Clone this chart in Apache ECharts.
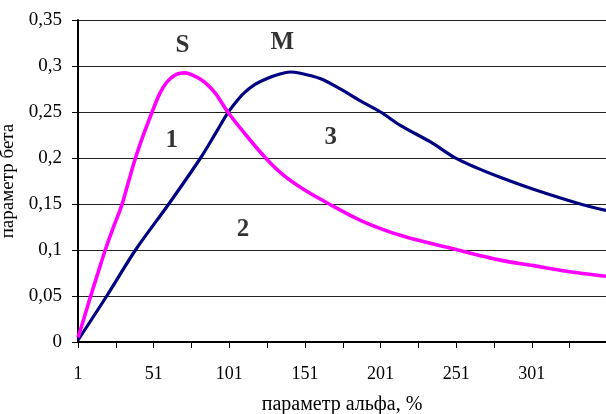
<!DOCTYPE html>
<html>
<head>
<meta charset="utf-8">
<script src="https://cdn.jsdelivr.net/npm/echarts@6/dist/echarts.min.js"></script>
<style>
html,body{margin:0;padding:0;background:#fff;}
#chart{width:606px;height:414px;}
</style>
</head>
<body>
<div id="chart"></div>
<script>
// x categories: параметр альфа 1..350
var categories = [];
for (var i = 1; i <= 350; i++) categories.push(String(i));

// curve 1-2 (magenta, S): alpha values and beta values
var magentaAlpha = [1, 5, 9, 14, 19, 24, 30, 34, 39, 44, 50, 55, 60, 66, 72, 78, 82, 87, 92, 100, 111, 125, 137, 150, 167, 188, 214, 252, 280, 302, 324, 350];
var magentaBeta  = [0.005, 0.026, 0.048, 0.074, 0.1, 0.123, 0.149, 0.172, 0.2, 0.224, 0.25, 0.27, 0.283, 0.291, 0.2925, 0.289, 0.2855, 0.279, 0.27, 0.25, 0.227, 0.2, 0.181, 0.166, 0.15, 0.132, 0.116, 0.1, 0.089, 0.083, 0.077, 0.0714];

// curve 3 (navy, M)
var navyAlpha = [1, 20, 39, 61, 82, 92, 100, 106, 111, 118, 126, 135, 141, 148, 161, 174, 187, 201, 214, 234, 250, 265, 280, 302, 333, 350];
var navyBeta  = [0.002, 0.05, 0.1, 0.15, 0.2, 0.227, 0.249, 0.262, 0.271, 0.28, 0.2865, 0.2915, 0.2935, 0.2921, 0.2863, 0.2754, 0.2627, 0.25, 0.2355, 0.2174, 0.2005, 0.189, 0.179, 0.166, 0.15, 0.143];

// annotation labels
var noteText  = ['S', 'M', '1', '2', '3'];
var noteAlpha = [70, 136, 63, 110, 168];
var noteBeta  = [0.322, 0.3258, 0.219, 0.1225, 0.2225];

function pairs(xs, ys) {
  return xs.map(function (x, k) { return [String(x), ys[k]]; });
}

var serif = '"Liberation Serif", "DejaVu Serif", serif';

var chart = echarts.init(document.getElementById('chart'));
chart.setOption({
  animation: false,
  backgroundColor: '#fff',
  grid: { left: 78, right: 0, top: 20, bottom: 72, containLabel: false, outerBoundsMode: 'none' },
  xAxis: {
    type: 'category',
    data: categories,
    boundaryGap: false,
    name: 'параметр альфа, %',
    nameLocation: 'middle',
    nameGap: 53,
    nameTextStyle: { fontFamily: serif, fontSize: 20, color: '#000' },
    axisLine: { lineStyle: { color: '#000', width: 2 } },
    axisTick: { show: true, length: 6, lineStyle: { color: '#000', width: 1 },
      interval: function (idx) { return idx % 25 === 0; } },
    axisLabel: { fontFamily: serif, fontSize: 18, color: '#000', margin: 23,
      interval: function (idx) { return idx % 50 === 0; } },
    splitLine: { show: false }
  },
  yAxis: {
    type: 'value',
    min: 0, max: 0.35, interval: 0.05,
    name: 'параметр бета',
    nameLocation: 'middle',
    nameGap: 55,
    nameTextStyle: { fontFamily: serif, fontSize: 19, color: '#000' },
    axisLine: { show: true, lineStyle: { color: '#000', width: 2 } },
    axisTick: { show: true, length: 6, lineStyle: { color: '#000' } },
    axisLabel: { fontFamily: serif, fontSize: 19, color: '#000', margin: 16,
      formatter: function (v) { return String(+v.toFixed(2)).replace('.', ','); } },
    splitLine: { show: true, lineStyle: { color: '#222', width: 1 } }
  },
  series: [
    {
      type: 'line', name: 'S',
      data: pairs(magentaAlpha, magentaBeta),
      smooth: 0.3, showSymbol: false,
      lineStyle: { color: '#FF00FF', width: 3.6 }, z: 3
    },
    {
      type: 'line', name: 'M',
      data: pairs(navyAlpha, navyBeta),
      smooth: 0.3, showSymbol: false,
      lineStyle: { color: '#000080', width: 3.2 }, z: 2
    },
    {
      type: 'scatter', symbolSize: 0,
      data: noteText.map(function (t, k) { return { name: t, value: [String(noteAlpha[k]), noteBeta[k]] }; }),
      label: { show: true, position: 'inside', formatter: '{b}',
        fontFamily: serif, fontWeight: 'bold', fontSize: 25, color: '#000' },
      silent: true, z: 5
    }
  ]
});
</script>
</body>
</html>
